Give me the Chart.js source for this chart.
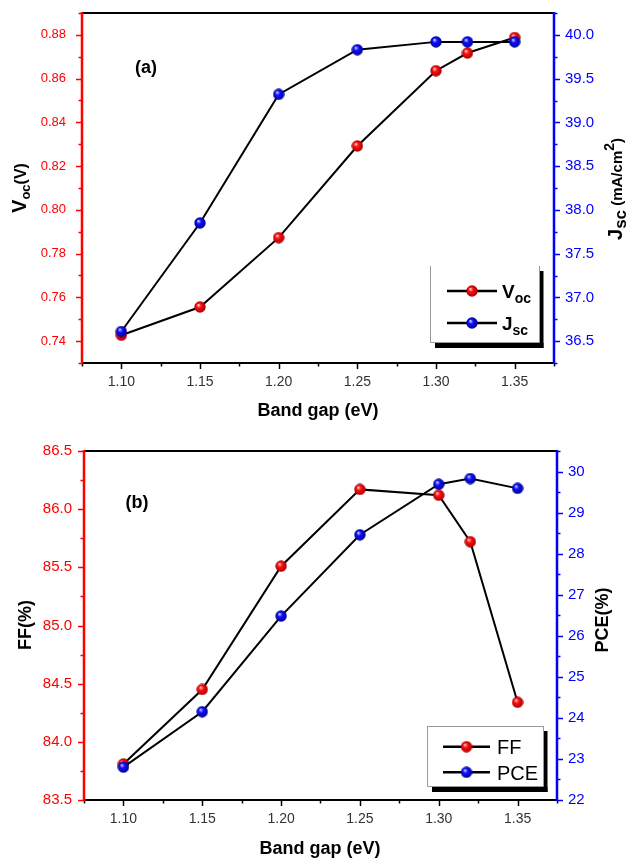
<!DOCTYPE html>
<html>
<head>
<meta charset="utf-8">
<script src="https://cdn.jsdelivr.net/npm/chart.js@4.4.1/dist/chart.umd.min.js"></script>
<style>
  html, body { margin: 0; padding: 0; background: #fff; }
  #wrap { position: relative; width: 627px; height: 862px; }
  canvas { position: absolute; left: 0; }
  #top { top: 0; }
  #bottom { top: 420px; }
</style>
</head>
<body>
<div id="wrap">
  <canvas id="top" width="627" height="420"></canvas>
  <canvas id="bottom" width="627" height="442"></canvas>
</div>
<script>
// values
const bandGap = [1.10, 1.15, 1.20, 1.25, 1.30, 1.32, 1.35];
const voc = [0.7427, 0.7556, 0.7873, 0.8292, 0.8636, 0.8717, 0.8788];
const jsc = [36.61, 37.85, 39.32, 39.83, 39.92, 39.92, 39.92];
const ff = [83.81, 84.45, 85.51, 86.17, 86.12, 85.72, 84.34];
const pce = [22.80, 24.15, 26.48, 28.46, 29.69, 29.83, 29.59];

const xTicks = [1.10, 1.15, 1.20, 1.25, 1.30, 1.35];
const vocTicks = [0.74, 0.76, 0.78, 0.80, 0.82, 0.84, 0.86, 0.88];
const jscTicks = [36.5, 37.0, 37.5, 38.0, 38.5, 39.0, 39.5, 40.0];
const ffTicks = [83.5, 84.0, 84.5, 85.0, 85.5, 86.0, 86.5];
const pceTicks = [22, 23, 24, 25, 26, 27, 28, 29, 30];

const FONT = '"Liberation Sans", Arial, sans-serif';

function ball(light, mid, dark) {
  const c = document.createElement('canvas');
  c.width = c.height = 12;
  const g = c.getContext('2d');
  const grad = g.createRadialGradient(4.3, 3.9, 0.3, 6, 6, 6);
  grad.addColorStop(0, light);
  grad.addColorStop(0.35, mid);
  grad.addColorStop(1, dark);
  g.fillStyle = grad;
  g.beginPath();
  g.arc(6, 6, 5.7, 0, Math.PI * 2);
  g.fill();
  return c;
}
const redBall = ball('#ffd0d0', '#ff1010', '#a00000');
const blueBall = ball('#d0d0ff', '#1010ff', '#00008a');

// text pieces with sub/superscripts, centred on x
function rich(ctx, parts, x, y, rotate) {
  ctx.save();
  ctx.translate(x, y);
  if (rotate) ctx.rotate(-Math.PI / 2);
  ctx.textBaseline = 'alphabetic';
  ctx.textAlign = 'left';
  let w = 0;
  parts.forEach(p => { ctx.font = p.f; p.w = ctx.measureText(p.t).width; w += p.w; });
  let cx = -w / 2;
  parts.forEach(p => {
    ctx.font = p.f;
    ctx.fillStyle = p.c || '#000';
    ctx.fillText(p.t, cx, p.dy || 0);
    cx += p.w;
  });
  ctx.restore();
}

function minors(ticks, min, max) {
  const step = ticks[1] - ticks[0];
  const out = [];
  for (let v = ticks[0] - step / 2; v <= max + 1e-9; v += step) {
    if (v >= min - 1e-9) out.push(v);
  }
  return out;
}

function framePlugin(o) {
  return {
    id: 'frame',
    afterDraw(chart) {
      const ctx = chart.ctx, a = chart.chartArea;
      const sx = chart.scales.x, sl = chart.scales.yL, sr = chart.scales.yR;
      ctx.save();
      ctx.lineCap = 'butt';

      // tick marks
      const yTicks = (scale, vals, len, color, dir, x0) => {
        ctx.strokeStyle = color; ctx.lineWidth = 1.5;
        vals.forEach(v => {
          const y = Math.round(scale.getPixelForValue(v)) + 0.5;
          ctx.beginPath(); ctx.moveTo(x0, y); ctx.lineTo(x0 + dir * len, y); ctx.stroke();
        });
      };
      yTicks(sl, o.lTicks, 6, o.lColor, -1, a.left);
      yTicks(sl, minors(o.lTicks, sl.min, sl.max), 3.5, o.lColor, -1, a.left);
      yTicks(sr, o.rTicks, 6, o.rColor, 1, a.right);
      yTicks(sr, minors(o.rTicks, sr.min, sr.max), 3.5, o.rColor, 1, a.right);
      ctx.strokeStyle = '#000'; ctx.lineWidth = 1.5;
      const xt = (vals, len) => vals.forEach(v => {
        const x = Math.round(sx.getPixelForValue(v)) + 0.5;
        ctx.beginPath(); ctx.moveTo(x, a.bottom); ctx.lineTo(x, a.bottom + len); ctx.stroke();
      });
      xt(xTicks, 6);
      xt(minors(xTicks, sx.min, sx.max), 3.5);

      // frame
      ctx.lineWidth = 2;
      ctx.strokeStyle = '#000';
      ctx.beginPath();
      ctx.moveTo(a.left, a.top); ctx.lineTo(a.right, a.top);
      ctx.moveTo(a.left, a.bottom); ctx.lineTo(a.right, a.bottom);
      ctx.stroke();
      ctx.lineWidth = 2.5;
      ctx.strokeStyle = o.lColor;
      ctx.beginPath(); ctx.moveTo(a.left, a.top - 1); ctx.lineTo(a.left, a.bottom + 1); ctx.stroke();
      ctx.strokeStyle = o.rColor;
      ctx.beginPath(); ctx.moveTo(a.right, a.top - 1); ctx.lineTo(a.right, a.bottom + 1); ctx.stroke();

      // axis titles and panel label
      o.titles.forEach(t => rich(ctx, t.parts, t.x, t.y, t.rot));

      // legend
      const L = o.legend;
      ctx.fillStyle = '#000';
      ctx.fillRect(L.x + L.w, L.y + 5, 4.5, L.h + 1);
      ctx.fillRect(L.x + 5, L.y + L.h + 1, L.w - 0.5, 5);
      ctx.strokeStyle = '#999'; ctx.lineWidth = 1;
      ctx.beginPath();
      if (!L.noTop) { ctx.moveTo(L.x, L.y + 0.5); ctx.lineTo(L.x + L.w, L.y + 0.5); }
      ctx.moveTo(L.x + 0.5, L.y); ctx.lineTo(L.x + 0.5, L.y + L.h + 0.5);
      ctx.lineTo(L.x + L.w + 0.5, L.y + L.h + 0.5); ctx.lineTo(L.x + L.w + 0.5, L.y);
      ctx.stroke();
      chart.data.datasets.forEach((ds, i) => {
        const cy = L.rows[i];
        ctx.strokeStyle = '#000'; ctx.lineWidth = 2.5;
        ctx.beginPath(); ctx.moveTo(L.x1, cy); ctx.lineTo(L.x2, cy); ctx.stroke();
        ctx.drawImage(ds.pointStyle, (L.x1 + L.x2) / 2 - 6, cy - 6);
        const parts = L.labels[i];
        ctx.save();
        ctx.textBaseline = 'alphabetic';
        let tx = L.tx;
        parts.forEach(p => {
          ctx.font = p.f; ctx.fillStyle = '#000';
          ctx.fillText(p.t, tx, cy + L.base + (p.dy || 0));
          tx += ctx.measureText(p.t).width;
        });
        ctx.restore();
      });
      ctx.restore();
    }
  };
}

function makeChart(id, o) {
  const pts = arr => bandGap.map((x, i) => ({ x: x, y: arr[i] }));
  const setTicks = vals => s => { s.ticks = vals.map(v => ({ value: v })); };
  const fixV = w => s => { s.width = w; s.paddingTop = 0; s.paddingBottom = 0; };
  return new Chart(document.getElementById(id), {
    type: 'line',
    data: {
      datasets: [
        { label: o.names[0], data: pts(o.left), yAxisID: 'yL', borderColor: '#000', borderWidth: 2,
          pointStyle: redBall, pointRadius: 6, tension: 0, order: 1 },
        { label: o.names[1], data: pts(o.right), yAxisID: 'yR', borderColor: '#000', borderWidth: 2,
          pointStyle: blueBall, pointRadius: 6, tension: 0, order: 0 }
      ]
    },
    options: {
      responsive: false,
      animation: false,
      devicePixelRatio: 1,
      layout: { padding: { top: o.padTop, left: 0, right: 0, bottom: 0 } },
      plugins: { legend: { display: false }, tooltip: { enabled: false } },
      scales: {
        x: {
          type: 'linear', min: 1.075, max: 1.375,
          afterBuildTicks: setTicks(xTicks),
          afterFit: s => { s.height = o.xH; s.paddingLeft = 0; s.paddingRight = 0; },
          grid: { display: false, drawTicks: false }, border: { display: false },
          ticks: { padding: o.xPad, color: '#333', font: { family: FONT, size: 14 }, callback: v => v.toFixed(2) }
        },
        yL: {
          position: 'left', min: o.lMin, max: o.lMax,
          afterBuildTicks: setTicks(o.lTicks),
          afterFit: fixV(o.lW),
          grid: { display: false, drawTicks: false }, border: { display: false },
          ticks: { padding: o.lPad, color: o.lColor, font: { family: FONT, size: o.lSize }, callback: v => v.toFixed(o.lDec) }
        },
        yR: {
          position: 'right', min: o.rMin, max: o.rMax,
          afterBuildTicks: setTicks(o.rTicks),
          afterFit: fixV(o.rW),
          grid: { display: false, drawTicks: false }, border: { display: false },
          ticks: { padding: o.rPad, color: o.rColor, font: { family: FONT, size: 15 }, callback: v => v.toFixed(o.rDec) }
        }
      }
    },
    plugins: [framePlugin(o)]
  });
}

const B = s => 'bold ' + s + 'px ' + FONT;
const N = s => s + 'px ' + FONT;

makeChart('top', {
  names: ['Voc', 'Jsc'], left: voc, right: jsc,
  padTop: 13, xH: 57, lW: 82, rW: 73, xPad: 11, lPad: 16, rPad: 11,
  lMin: 0.73, lMax: 0.89, rMin: 36.25, rMax: 40.25,
  lTicks: vocTicks, rTicks: jscTicks, lDec: 2, rDec: 1, lSize: 13,
  lColor: '#ff0000', rColor: '#0000ff',
  titles: [
    { rot: true, x: 26, y: 188, parts: [{ t: 'V', f: B(20) }, { t: 'oc', f: B(13), dy: 4 }, { t: '(V)', f: B(16) }] },
    { rot: true, x: 622, y: 189, parts: [{ t: 'J', f: B(20) }, { t: 'sc', f: B(17), dy: 4 }, { t: ' (mA/cm', f: B(15) }, { t: '2', f: B(14), dy: -8 }, { t: ')', f: B(15) }] },
    { x: 318, y: 416, parts: [{ t: 'Band gap (eV)', f: B(18) }] },
    { x: 146, y: 73, parts: [{ t: '(a)', f: B(18) }] }
  ],
  legend: {
    x: 430, y: 266, w: 109, h: 76, noTop: true, x1: 447, x2: 497, tx: 502, base: 6.5, rows: [291, 323],
    labels: [
      [{ t: 'V', f: B(19) }, { t: 'oc', f: B(14), dy: 5 }],
      [{ t: 'J', f: B(19) }, { t: 'sc', f: B(14), dy: 5 }]
    ]
  }
});

makeChart('bottom', {
  names: ['FF', 'PCE'], left: ff, right: pce,
  padTop: 31, xH: 62, lW: 84, rW: 70, xPad: 11, lPad: 12, rPad: 11,
  lMin: 83.5, lMax: 86.5, rMin: 22, rMax: 30.5,
  lTicks: ffTicks, rTicks: pceTicks, lDec: 1, rDec: 0, lSize: 15,
  lColor: '#ff0000', rColor: '#0000ff',
  titles: [
    { rot: true, x: 31, y: 205, parts: [{ t: 'FF(%)', f: B(18) }] },
    { rot: true, x: 608, y: 200, parts: [{ t: 'PCE(%)', f: B(18) }] },
    { x: 320, y: 434, parts: [{ t: 'Band gap (eV)', f: B(18) }] },
    { x: 137, y: 88, parts: [{ t: '(b)', f: B(18) }] }
  ],
  legend: {
    x: 427, y: 306, w: 116, h: 60, noTop: false, x1: 443, x2: 490, tx: 497, base: 7.5, rows: [326.7, 352.3],
    labels: [
      [{ t: 'FF', f: N(20) }],
      [{ t: 'PCE', f: N(20) }]
    ]
  }
});
</script>
</body>
</html>
